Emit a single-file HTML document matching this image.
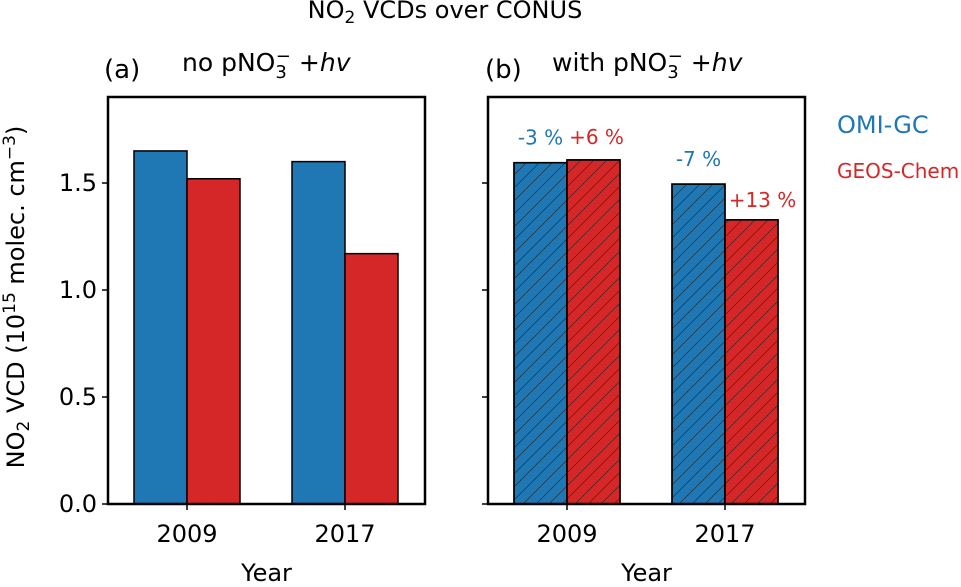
<!DOCTYPE html>
<html><head><meta charset="utf-8"><style>
body{margin:0;background:#fff;width:961px;height:582px;overflow:hidden}
svg{font-family:"DejaVu Sans","Liberation Sans",sans-serif}
</style></head><body>
<svg id="chart" width="961" height="582" viewBox="0 0 961 582">
<defs>
<pattern id="hatch" patternUnits="userSpaceOnUse" width="13" height="13">
<path d="M-1,14 L14,-1 M-2,2 L2,-2 M11,15 L15,11" stroke="#222" stroke-width="0.6"/>
</pattern>
</defs>
<text x="445" y="18" font-size="24" text-anchor="middle">NO<tspan font-size="17" dy="5">2</tspan><tspan dy="-5"> VCDs over CONUS</tspan></text>
<text x="104" y="78" font-size="26">(a)</text>
<text x="182" y="71" font-size="25">no pNO<tspan font-size="18" dy="7">3</tspan><tspan font-size="18" dx="-11" dy="-16">−</tspan><tspan dy="9" dx="8">+</tspan><tspan font-style="italic">hv</tspan></text>
<text x="485" y="78" font-size="26">(b)</text>
<text x="552" y="71" font-size="25">with pNO<tspan font-size="18" dy="7">3</tspan><tspan font-size="18" dx="-11" dy="-16">−</tspan><tspan dy="9" dx="8">+</tspan><tspan font-style="italic">hv</tspan></text>
<text x="837" y="133" font-size="24" fill="#1f77b4">OMI-GC</text>
<text x="837" y="178" font-size="20" fill="#d62728">GEOS-Chem</text>
<text transform="translate(24,297) rotate(-90)" font-size="24" text-anchor="middle">NO<tspan font-size="17" dy="5">2</tspan><tspan dy="-5"> VCD (10</tspan><tspan font-size="17" dy="-9">15</tspan><tspan dy="9"> molec. cm</tspan><tspan font-size="17" dy="-9">−3</tspan><tspan dy="9">)</tspan></text>
<g id="plot"></g>
</svg>
<script>
const categories = ["2009", "2017"];
const omiA = [1.65, 1.60];
const gcA = [1.52, 1.17];
const omiB = [1.595, 1.495];
const gcB = [1.608, 1.328];
const labelsOmiB = ["-3 %", "-7 %"];
const labelsGcB = ["+6 %", "+13 %"];
const yTicks = [0.0, 0.5, 1.0, 1.5];
const yTickLabels = ["0.0", "0.5", "1.0", "1.5"];

const NS = "http://www.w3.org/2000/svg";
const plotG = document.getElementById("plot");
const axTop = 97, axBottom = 504, ymax = 1.902, W = 317, barW = 53;
function y(v){ return axBottom - v / ymax * (axBottom - axTop); }
function mk(tag, attrs){ const e = document.createElementNS(NS, tag); for (const k in attrs) e.setAttribute(k, attrs[k]); plotG.appendChild(e); return e; }

function panel(x0, omi, gc, hatch, id, showLabels){
  const xc = i => x0 + 79 + i * 158;
  categories.forEach((c, i) => {
    [[omi, "#1f77b4", -barW, "omi"], [gc, "#d62728", 0, "gc"]].forEach(([arr, col, off, nm]) => {
      const r = mk("rect", {x: xc(i) + off, y: y(arr[i]), width: barW, height: axBottom - y(arr[i]), fill: col, stroke: "#000", "stroke-width": 1.5});
      
      
      if (hatch) {
        const h = mk("rect", {x: xc(i) + off, y: y(arr[i]), width: barW, height: axBottom - y(arr[i]), fill: "url(#hatch)", stroke: "#000", "stroke-width": 1.5});
        
        
      }
    });
    const t = mk("text", {x: xc(i), y: 542, "font-size": 24, "text-anchor": "middle"});
    t.textContent = c;
    
    
    mk("line", {x1: xc(i), x2: xc(i), y1: axBottom, y2: axBottom + 6, stroke: "#000", "stroke-width": 1.5});
  });
  yTicks.forEach((v, k) => {
    mk("line", {x1: x0 - 6, x2: x0, y1: y(v), y2: y(v), stroke: "#000", "stroke-width": 1.5});
    if (showLabels) {
      const t = mk("text", {x: x0 - 11, y: y(v) + 8, "font-size": 24, "text-anchor": "end"});
      t.textContent = yTickLabels[k];
      
      
    }
  });
  const f = mk("rect", {x: x0, y: axTop, width: W, height: axBottom - axTop, fill: "none", stroke: "#000", "stroke-width": 2.5});
  
  
  const xt = mk("text", {x: x0 + W / 2, y: 581, "font-size": 24, "text-anchor": "middle"});
  xt.textContent = "Year";
  
  
  return xc;
}
panel(108, omiA, gcA, false, "a", true);
const xcB = panel(488, omiB, gcB, true, "b", false);
categories.forEach((c, i) => {
  const a = mk("text", {x: xcB(i) - barW / 2, y: y(omiB[i]) - 18, "font-size": 20, fill: "#1f77b4", "text-anchor": "middle"});
  a.textContent = labelsOmiB[i];
  
  
  const b = mk("text", {x: xcB(i) + barW / 2 + (i ? 11 : 3), y: y(gcB[i]) - (i ? 13 : 16), "font-size": 20, fill: "#d62728", "text-anchor": "middle"});
  b.textContent = labelsGcB[i];
  
  
});
</script>
</body></html>
